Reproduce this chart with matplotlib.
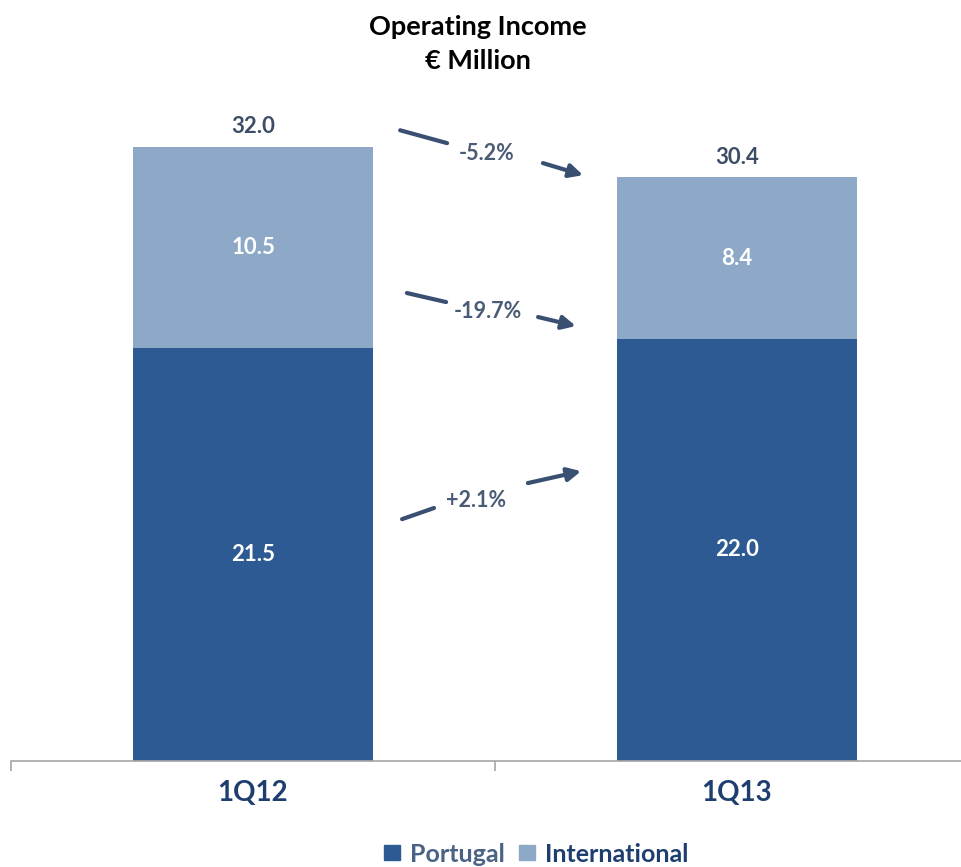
import matplotlib
matplotlib.use("Agg")
import matplotlib.pyplot as plt
from matplotlib.patches import Patch

plt.rcParams['font.family'] = ['Lato', 'DejaVu Sans']

# Data
periods = ["1Q12", "1Q13"]
portugal = [21.5, 22.0]
international = [10.5, 8.4]
totals = [32.0, 30.4]
change_labels = ["-5.2%", "-19.7%", "+2.1%"]
series_names = ["Portugal", "International"]

dark_blue = "#2D5A92"
light_blue = "#8EA8C8"
navy_text = "#1F3E70"
label_grey = "#3E4D66"
arrow_col = "#3A5072"

fig = plt.figure(figsize=(9.61, 8.67), dpi=100)
ax = fig.add_axes([11 / 961, 106 / 867, 968 / 961, 691 / 867])

x = list(range(len(periods)))
bar_w = 0.496
ax.bar(x, portugal, width=bar_w, color=dark_blue, label=series_names[0])
ax.bar(x, international, width=bar_w, bottom=portugal, color=light_blue,
       label=series_names[1])

ax.set_xlim(-0.5, 1.5)
ax.set_ylim(0, 36)

# Segment values inside the bars and totals above
for i in x:
    ax.text(i, portugal[i] / 2, f"{portugal[i]:.1f}", ha="center", va="center",
            color="white", fontsize=16, fontweight="bold")
    ax.text(i, portugal[i] + international[i] / 2, f"{international[i]:.1f}",
            ha="center", va="center", color="white", fontsize=16,
            fontweight="bold")
    ax.text(i, totals[i] + 0.5, f"{totals[i]:.1f}", ha="center",
            va="bottom", color=label_grey, fontsize=16, fontweight="bold")

# Change indicators between the two periods: a lead-in stroke, the label,
# then the arrow head
changes = [
    ((0.304, 32.86), (0.401, 32.19), (0.483, 31.67), (0.599, 31.15), (0.682, 30.52)),
    ((0.318, 24.38), (0.399, 23.91), (0.486, 23.44), (0.589, 23.13), (0.667, 22.66)),
    ((0.308, 12.60), (0.374, 13.18), (0.461, 13.59), (0.568, 14.48), (0.678, 15.10)),
]
for lab, (p0, p1, pt, a0, a1) in zip(change_labels, changes):
    ax.plot([p0[0], p1[0]], [p0[1], p1[1]], color=arrow_col, lw=3,
            solid_capstyle="round")
    ax.annotate("", xy=a1, xytext=a0,
                arrowprops=dict(arrowstyle="-|>,head_length=0.8,head_width=0.4",
                                color=arrow_col, lw=3, shrinkA=0, shrinkB=0))
    ax.text(pt[0], pt[1], lab, ha="center", va="center", color="#4A5B75",
            fontsize=15.5, fontweight="bold")

# Axis styling
for s in ("top", "right", "left"):
    ax.spines[s].set_visible(False)
ax.spines["bottom"].set_color("#A6A6A6")
ax.spines["bottom"].set_linewidth(1.2)
ax.set_yticks([])
ax.set_xticks(x)
ax.set_xticklabels(periods, fontsize=20, fontweight="bold", color=navy_text)
ax.tick_params(axis="x", which="major", length=0, pad=14)
ax.set_xticks([-0.5, 0.5, 1.5], minor=True)
ax.tick_params(axis="x", which="minor", length=7, color="#A6A6A6", width=1.2)

fig.text(478 / 961, 1 - 27 / 867, "Operating Income", ha="center", va="center",
         fontsize=19.5, fontweight="bold", color="black")
fig.text(478 / 961, 1 - 61 / 867, "€ Million", ha="center", va="center",
         fontsize=19.5, fontweight="bold", color="black")

handles = [Patch(color=dark_blue, label=series_names[0]),
           Patch(color=light_blue, label=series_names[1])]
leg = fig.legend(handles=handles, loc="center", bbox_to_anchor=(536 / 961, 1 - 854 / 867),
                 ncol=2, frameon=False, handlelength=0.65, handleheight=0.55,
                 handletextpad=0.4, columnspacing=0.55, borderaxespad=0,
                 prop={"size": 18, "weight": "bold"})
legend_text_colors = ["#4A6284", navy_text]
for t, c in zip(leg.get_texts(), legend_text_colors):
    t.set_color(c)

fig.savefig("out.png", dpi=100, facecolor="white")
